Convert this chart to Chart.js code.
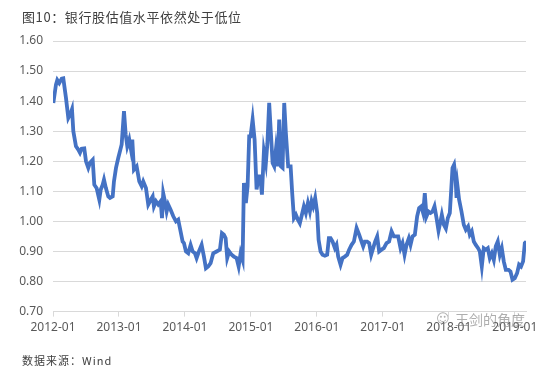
<!DOCTYPE html>
<html>
<head>
<meta charset="utf-8">
<script src="https://cdn.jsdelivr.net/npm/chart.js@4.4.1/dist/chart.umd.min.js"></script>
<style>
  body { margin: 0; background: #fff; }
  #wrap { position: relative; width: 550px; height: 373px; }
  #title { position: absolute; left: 22px; top: 7px; font: 13px "Noto Sans CJK SC", sans-serif; color: #404040; letter-spacing: 0.6px; }
  #source { position: absolute; left: 22px; top: 352px; font: 11px "Noto Sans CJK SC", sans-serif; color: #404040; letter-spacing: 1px; }
  #mark { position: absolute; left: 455px; top: 309px; font: 14px "Noto Sans CJK SC", sans-serif; color: rgba(120,120,120,0.6); }
  #icon { position: absolute; left: 436px; top: 311px; font: 13px "DejaVu Sans", sans-serif; color: rgba(120,120,120,0.6); }
</style>
</head>
<body>
<div id="wrap">
  <canvas id="pbChart" width="550" height="373"></canvas>
  <div id="title">图10：银行股估值水平依然处于低位</div>
  <div id="icon">☺</div>
  <div id="mark">王剑的角度</div>
  <div id="source">数据来源：Wind</div>
</div>
<script>
// ===============================
// Data
// ===============================
const tickLabels = ["2012-01", "2013-01", "2014-01", "2015-01", "2016-01", "2017-01", "2018-01", "2019-01"];

const years = [
  2012.005, 2012.045, 2012.065, 2012.095, 2012.132, 2012.156, 2012.197, 2012.232, 2012.268, 2012.288,
  2012.308, 2012.348, 2012.383, 2012.409, 2012.435, 2012.474, 2012.500, 2012.535, 2012.561, 2012.602,
  2012.626, 2012.662, 2012.702, 2012.723, 2012.753, 2012.773, 2012.803, 2012.838, 2012.864, 2012.905,
  2012.924, 2012.955, 2012.989, 2013.015, 2013.041, 2013.076, 2013.102, 2013.126, 2013.156, 2013.182,
  2013.202, 2013.227, 2013.268, 2013.308, 2013.344, 2013.368, 2013.409, 2013.444, 2013.470, 2013.511,
  2013.530, 2013.561, 2013.595, 2013.632, 2013.652, 2013.671, 2013.697, 2013.723, 2013.747, 2013.783,
  2013.823, 2013.864, 2013.898, 2013.924, 2013.965, 2013.985, 2014.015, 2014.050, 2014.086, 2014.117,
  2014.152, 2014.177, 2014.212, 2014.253, 2014.288, 2014.318, 2014.353, 2014.389, 2014.429, 2014.480,
  2014.530, 2014.561, 2014.591, 2014.617, 2014.641, 2014.671, 2014.708, 2014.742, 2014.783, 2014.814,
  2014.844, 2014.874, 2014.894, 2014.924, 2014.950, 2014.974, 2014.995, 2015.026, 2015.056, 2015.086,
  2015.117, 2015.141, 2015.167, 2015.197, 2015.227, 2015.250, 2015.277, 2015.303, 2015.329, 2015.353,
  2015.379, 2015.405, 2015.429, 2015.455, 2015.480, 2015.505, 2015.530, 2015.565, 2015.602, 2015.626,
  2015.652, 2015.682, 2015.712, 2015.742, 2015.773, 2015.803, 2015.833, 2015.864, 2015.894, 2015.920,
  2015.944, 2015.974, 2016.005, 2016.026, 2016.056, 2016.086, 2016.121, 2016.156, 2016.182, 2016.208,
  2016.238, 2016.273, 2016.298, 2016.323, 2016.359, 2016.389, 2016.424, 2016.459, 2016.489, 2016.526,
  2016.561, 2016.602, 2016.641, 2016.677, 2016.702, 2016.727, 2016.762, 2016.792, 2016.823, 2016.853,
  2016.883, 2016.914, 2016.944, 2016.980, 2017.015, 2017.056, 2017.095, 2017.132, 2017.167, 2017.197,
  2017.232, 2017.268, 2017.298, 2017.329, 2017.359, 2017.394, 2017.420, 2017.450, 2017.485, 2017.520,
  2017.550, 2017.583, 2017.611, 2017.636, 2017.662, 2017.692, 2017.723, 2017.753, 2017.783, 2017.814,
  2017.844, 2017.874, 2017.894, 2017.924, 2017.955, 2017.985, 2018.015, 2018.035, 2018.056, 2018.080,
  2018.102, 2018.117, 2018.132, 2018.156, 2018.192, 2018.227, 2018.258, 2018.292, 2018.318, 2018.348,
  2018.379, 2018.409, 2018.444, 2018.470, 2018.500, 2018.530, 2018.561, 2018.591, 2018.621, 2018.652,
  2018.682, 2018.712, 2018.742, 2018.773, 2018.803, 2018.833, 2018.864, 2018.905, 2018.935, 2018.965,
  2019.000, 2019.035, 2019.065, 2019.095, 2019.126, 2019.152, 2019.175
];

const pbValues = [
  1.394, 1.455, 1.470, 1.460, 1.475, 1.476, 1.410, 1.344, 1.360, 1.373,
  1.300, 1.250, 1.239, 1.228, 1.242, 1.243, 1.200, 1.178, 1.195, 1.205,
  1.122, 1.110, 1.072, 1.105, 1.122, 1.139, 1.110, 1.083, 1.078, 1.083,
  1.133, 1.178, 1.211, 1.233, 1.256, 1.367, 1.289, 1.250, 1.272, 1.239,
  1.272, 1.172, 1.183, 1.133, 1.117, 1.133, 1.111, 1.056, 1.067, 1.083,
  1.050, 1.067, 1.056, 1.067, 1.011, 1.094, 1.067, 1.033, 1.056, 1.039,
  1.017, 1.000, 1.006, 0.978, 0.933, 0.928, 0.900, 0.894, 0.922, 0.900,
  0.894, 0.878, 0.900, 0.922, 0.883, 0.844, 0.850, 0.861, 0.894, 0.900,
  0.906, 0.961, 0.956, 0.944, 0.878, 0.900, 0.889, 0.883, 0.878, 0.850,
  0.894, 0.872, 1.128, 1.061, 1.117, 1.283, 1.283, 1.339, 1.272, 1.106,
  1.150, 1.150, 1.089, 1.233, 1.194, 1.260, 1.394, 1.294, 1.194, 1.183,
  1.239, 1.183, 1.339, 1.183, 1.178, 1.394, 1.294, 1.183, 1.183, 1.094,
  1.011, 1.022, 1.006, 0.994, 1.022, 1.050, 1.028, 1.061, 1.033, 1.067,
  1.050, 1.078, 1.028, 0.939, 0.900, 0.889, 0.886, 0.889, 0.944, 0.944,
  0.933, 0.911, 0.922, 0.883, 0.856, 0.878, 0.883, 0.889, 0.906, 0.922,
  0.933, 0.978, 0.956, 0.933, 0.917, 0.933, 0.933, 0.928, 0.889, 0.911,
  0.933, 0.950, 0.900, 0.906, 0.911, 0.928, 0.933, 0.967, 0.950, 0.950,
  0.950, 0.911, 0.928, 0.889, 0.922, 0.944, 0.922, 0.950, 0.956, 1.017,
  1.044, 1.050, 1.028, 1.094, 1.017, 1.033, 1.028, 1.033, 1.050, 1.011,
  0.969, 1.000, 1.022, 0.989, 0.976, 1.011, 1.028, 1.100, 1.178, 1.189,
  1.144, 1.078, 1.117, 1.072, 1.033, 0.989, 0.972, 0.983, 0.956, 0.967,
  0.933, 0.922, 0.911, 0.900, 0.850, 0.911, 0.906, 0.911, 0.878, 0.894,
  0.872, 0.917, 0.933, 0.889, 0.911, 0.867, 0.839, 0.839, 0.833, 0.806,
  0.811, 0.828, 0.856, 0.850, 0.867, 0.928, 0.933
];

const yTicks = [0.70, 0.80, 0.90, 1.00, 1.10, 1.20, 1.30, 1.40, 1.50, 1.60];

// ===============================
// Chart
// ===============================
const points = years.map((t, i) => ({ x: t, y: pbValues[i] }));

new Chart(document.getElementById("pbChart"), {
    type: "line",
    data: {
        datasets: [{
            data: points,
            borderColor: "#4472C4",
            borderWidth: 3.8,
            pointRadius: 0,
            tension: 0,
            fill: false
        }]
    },
    options: {
        responsive: false,
        animation: false,
        layout: { padding: { top: 41, right: 24, bottom: 34, left: 0 } },
        plugins: {
            legend: { display: false },
            tooltip: { enabled: false }
        },
        scales: {
            x: {
                type: "linear",
                min: 2012,
                max: 2019.17,
                afterBuildTicks: axis => {
                    axis.ticks = tickLabels.map((l, i) => ({ value: 2012 + i }));
                },
                ticks: {
                    callback: (v) => tickLabels[Math.round(v - 2012)],
                    color: "#595959",
                    font: { family: "Noto Sans", size: 12 },
                    maxRotation: 0,
                    padding: 4
                },
                grid: {
                    drawOnChartArea: false,
                    drawTicks: true,
                    tickLength: 5,
                    color: "#d9d9d9"
                },
                border: { display: true, color: "#d9d9d9" }
            },
            y: {
                min: 0.7,
                max: 1.6,
                afterBuildTicks: axis => {
                    axis.ticks = yTicks.map(v => ({ value: v }));
                },
                afterFit: axis => { axis.width = 53; },
                ticks: {
                    callback: v => v.toFixed(2),
                    color: "#595959",
                    font: { family: "Noto Sans", size: 12 },
                    padding: 10
                },
                grid: {
                    color: "#d9d9d9",
                    lineWidth: 1,
                    drawTicks: false
                },
                border: { display: false }
            }
        }
    }
});
</script>
</body>
</html>
